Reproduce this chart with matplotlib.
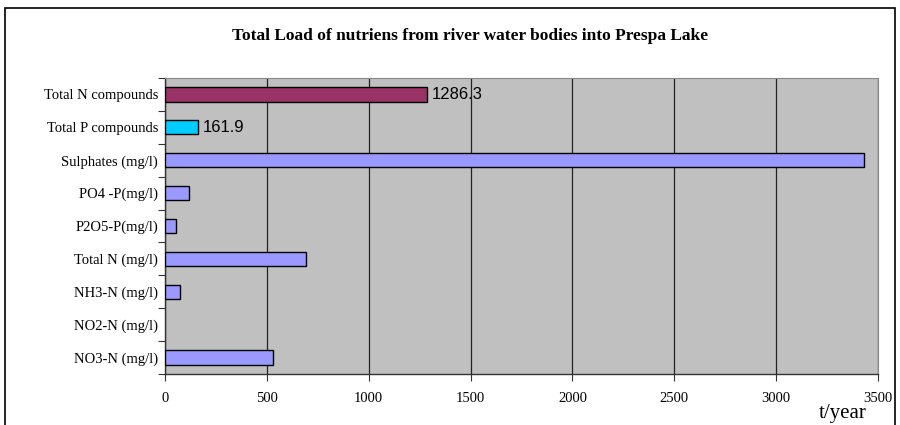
import matplotlib
matplotlib.use("Agg")
import matplotlib.pyplot as plt
from matplotlib.patches import Rectangle
import numpy as np

# data, bottom to top as drawn
categories = ["NO3-N (mg/l)", "NO2-N (mg/l)", "NH3-N (mg/l)", "Total N (mg/l)",
              "P2O5-P(mg/l)", "PO4 -P(mg/l)", "Sulphates (mg/l)",
              "Total P compounds", "Total N compounds"]
loads = [528, 0, 72, 694, 54, 118, 3430, 161.9, 1286.3]
colors = ["#9999FF"] * 7 + ["#00CCFF", "#993366"]
labelled = {7: "161.9", 8: "1286.3"}
xticks = [0, 500, 1000, 1500, 2000, 2500, 3000, 3500]

serif = "Liberation Serif"
sans = "Liberation Sans"

fig = plt.figure(figsize=(9, 4.25), dpi=100)
ax = fig.add_axes([0.1833, 0.12, 0.7923, 0.6965])

y = np.arange(len(categories))
ax.set_facecolor("#C0C0C0")
# empty bars get no outline, as in the original
edges = ["black" if v > 0 else "none" for v in loads]
ax.barh(y, loads, height=0.43, color=colors, edgecolor=edges, linewidth=1.0, zorder=3)

for i, txt in labelled.items():
    ax.text(loads[i] + 25, y[i], txt, va="center", ha="left",
            fontsize=12, family=sans, zorder=4)

ax.set_xlim(0, 3500)
ax.set_ylim(-0.5, len(categories) - 0.5)
ax.set_xticks(xticks)
ax.set_xticklabels([str(t) for t in xticks], family=serif, fontsize=10.5)
ax.xaxis.grid(True, color="#222222", linewidth=0.9, zorder=1)

# category labels centred, tick marks at the boundaries
ax.set_yticks(y)
ax.set_yticklabels(categories, family=serif, fontsize=10.5)
ax.tick_params(axis="y", length=0, pad=5)
ax.set_yticks(np.arange(-0.5, len(categories)), minor=True)
ax.tick_params(axis="y", which="minor", length=5, width=0.8, color="#333333")
ax.tick_params(axis="x", length=5, width=0.8, color="#333333", pad=8)

for side in ("top", "right"):
    ax.spines[side].set_color("#888888")
    ax.spines[side].set_linewidth(0.8)
for side in ("left", "bottom"):
    ax.spines[side].set_color("#333333")
    ax.spines[side].set_linewidth(1.0)

fig.text(0.522, 0.915, "Total Load of nutriens from river water bodies into Prespa Lake",
         ha="center", va="center", family=serif, fontsize=12.5, fontweight="bold")
fig.text(0.936, 0.028, "t/year", ha="center", va="center", family=serif, fontsize=15)

# outer chart frame (bottom edge runs off the image)
fig.patches.append(Rectangle((0.006, -0.1), 0.988, 1.081, transform=fig.transFigure,
                             fill=False, edgecolor="black", linewidth=1.2))

fig.savefig("out.png", dpi=100)
